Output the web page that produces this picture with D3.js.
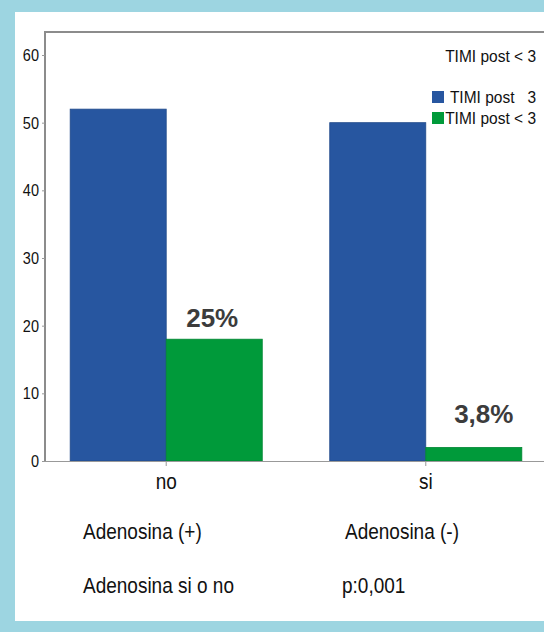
<!DOCTYPE html>
<html>
<head>
<meta charset="utf-8">
<script src="https://cdn.jsdelivr.net/npm/d3@7"></script>
<style>
  html, body { margin: 0; padding: 0; background: #9dd5e1; }
  svg { display: block; font-family: "Liberation Sans", Arial, Helvetica, sans-serif; }
</style>
</head>
<body>
<svg id="chart" width="544" height="632"></svg>
<script>
// Groups on the x axis
const categories = ["no", "si"];
// Series
const seriesNames = ["TIMI post   3", "TIMI post < 3"];
const seriesColors = ["#2756a0", "#009a3a"];
const timiPost3 = [52, 50];
const timiPostLess3 = [18, 2];
// Percentage annotations above the green bars
const pctLabels = ["25%", "3,8%"];
// Axis ticks
const yTicks = [0, 10, 20, 30, 40, 50, 60];
// Text under the chart
const groupCaptions = ["Adenosina (+)", "Adenosina (-)"];
const footerLeft = "Adenosina si o no";
const footerRight = "p:0,001";
const legendTitle = "TIMI post < 3";

const svg = d3.select("#chart");

// Text set in a slightly tall face: glyphs stretched vertically around their baseline
function tallText(parent, x, y, str, size, stretch, anchor) {
  return parent.append("text")
    .attr("transform", `translate(${x},${y}) scale(1,${stretch})`)
    .attr("text-anchor", anchor || "start")
    .attr("font-size", size).attr("fill", "#111")
    .style("white-space", "pre")
    .text(str);
}

// White panel
svg.append("rect").attr("x", 15).attr("y", 12).attr("width", 529).attr("height", 609).attr("fill", "#fff");

const plot = { left: 45, right: 547, top: 32, bottom: 461 };

const x0 = d3.scaleBand().domain(categories).range([plot.left, plot.right])
  .paddingInner(0.26).paddingOuter(0.097);
const x1 = d3.scaleBand().domain([0, 1]).range([0, x0.bandwidth()]);
const y = d3.scaleLinear().domain([0, 60]).range([plot.bottom, 55]);

// Plot frame
svg.append("path")
  .attr("d", `M${plot.left},${plot.bottom} V${plot.top} H${plot.right}`)
  .attr("fill", "none").attr("stroke", "#8c8c8c").attr("stroke-width", 2);

// Bars
const rows = categories.map((c, i) => ({ cat: c, vals: [timiPost3[i], timiPostLess3[i]] }));
const g = svg.append("g");
rows.forEach(r => {
  r.vals.forEach((v, s) => {
    g.append("rect")
      .attr("x", x0(r.cat) + x1(s))
      .attr("y", y(v))
      .attr("width", x1.bandwidth())
      .attr("height", y(0) - y(v))
      .attr("fill", seriesColors[s])
      .attr("stroke", d3.color(seriesColors[s]).darker(0.4))
      .attr("stroke-width", 0.8);
  });
});

// Y axis
const yAxis = svg.append("g").attr("transform", `translate(${plot.left},0)`)
  .call(d3.axisLeft(y).tickValues(yTicks).tickSize(3).tickPadding(3));
yAxis.select(".domain").remove();
yAxis.selectAll(".tick line").attr("stroke", "#999");
yAxis.selectAll(".tick text")
  .attr("font-size", 14.5).attr("fill", "#111")
  .attr("font-family", "Liberation Sans, Arial, sans-serif")
  .attr("x", null).attr("dy", null)
  .attr("transform", "translate(-6,5.5) scale(1,1.1)");

// X axis
const xAxis = svg.append("g").attr("transform", `translate(0,${plot.bottom})`)
  .call(d3.axisBottom(x0).tickSize(5).tickSizeOuter(0));
xAxis.select(".domain").attr("stroke", "#999").attr("d", `M${plot.left - 3},0.5H${plot.right}`);
xAxis.selectAll(".tick line").attr("stroke", "#999");
xAxis.selectAll(".tick text")
  .attr("font-size", 19).attr("fill", "#111")
  .attr("font-family", "Liberation Sans, Arial, sans-serif")
  .attr("y", null).attr("dy", null)
  .attr("transform", "translate(0,28) scale(1,1.18)");

// Percentage labels over the green bars
const pctOffsets = [{ dx: -2, dy: -12 }, { dx: 10, dy: -24 }];
pctLabels.forEach((t, i) => {
  const cx = x0(categories[i]) + x1(1) + x1.bandwidth() / 2;
  svg.append("text")
    .attr("x", cx + pctOffsets[i].dx)
    .attr("y", y(timiPostLess3[i]) + pctOffsets[i].dy)
    .attr("text-anchor", "middle")
    .attr("font-size", 26).attr("font-weight", "bold")
    .attr("fill", "#3c3c3c")
    .text(t);
});

// Legend
tallText(svg, 536, 62, legendTitle, 15.5, 1.08, "end");
const legend = svg.append("g");
seriesNames.forEach((n, i) => {
  const ly = 91 + i * 21;
  legend.append("rect").attr("x", 432).attr("y", ly).attr("width", 12).attr("height", 12)
    .attr("fill", seriesColors[i]);
  tallText(legend, 536, ly + 12, n, 15.5, 1.08, "end");
});

// Captions below the axis
const captionX = [83, 345];
groupCaptions.forEach((t, i) => tallText(svg, captionX[i], 539, t, 19, 1.16));
tallText(svg, 83, 593, footerLeft, 19, 1.16);
tallText(svg, 342, 593, footerRight, 19, 1.16);
</script>
</body>
</html>
